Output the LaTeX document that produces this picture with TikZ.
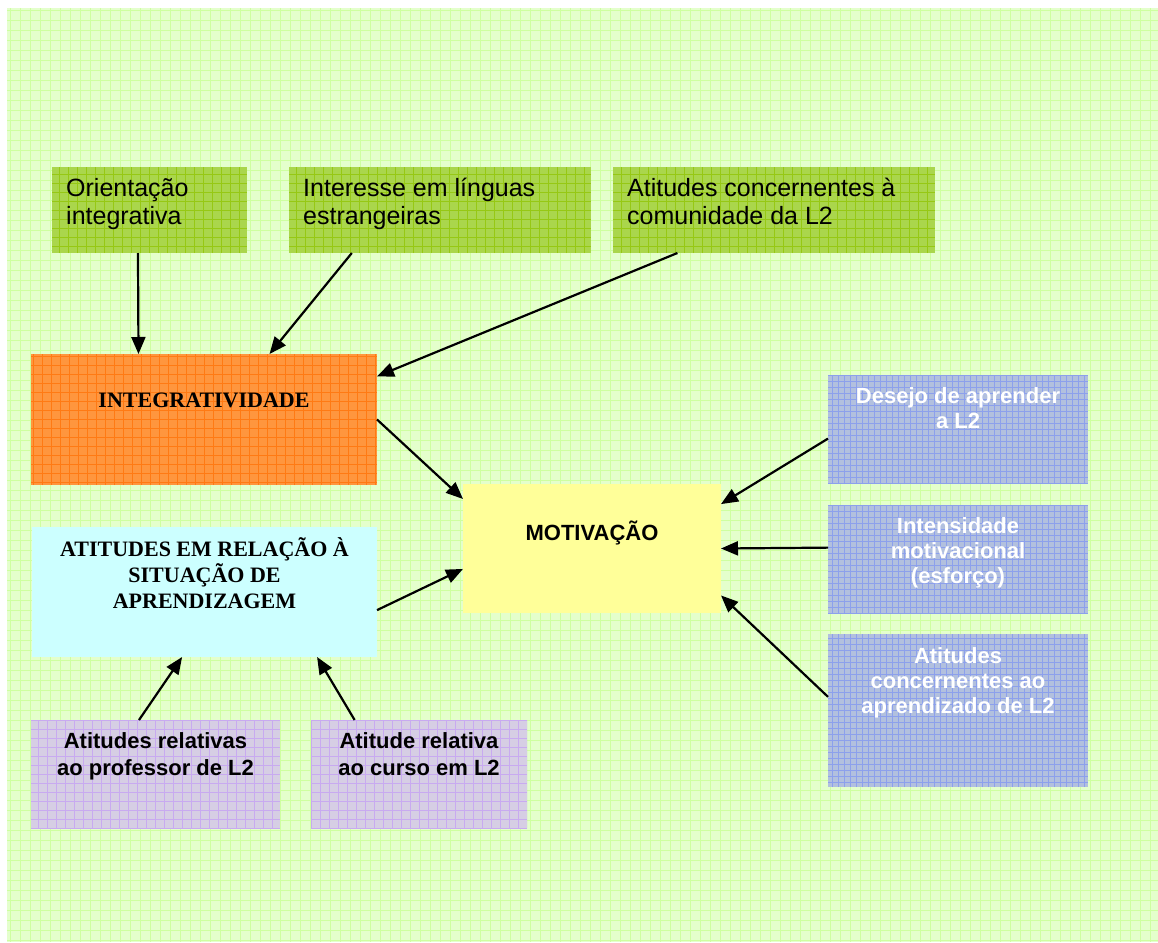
\documentclass[tikz,border=0pt]{standalone}
\usepackage{fontspec}
\setmainfont{Liberation Sans}
\newfontfamily\timesfont{Liberation Serif}
\usetikzlibrary{positioning,arrows.meta}

\definecolor{bgfill}{RGB}{228,255,204}
\definecolor{bgline}{RGB}{206,255,160}
\definecolor{leaf}{RGB}{170,214,76}
\definecolor{leafline}{RGB}{150,200,20}
\definecolor{orangefill}{RGB}{255,150,62}
\definecolor{orangeline}{RGB}{255,122,20}
\definecolor{cyanfill}{RGB}{204,255,255}
\definecolor{yellowfill}{RGB}{255,255,153}
\definecolor{lilac}{RGB}{214,206,228}
\definecolor{lilacline}{RGB}{200,170,240}
\definecolor{bluefill}{RGB}{178,192,222}
\definecolor{blueline}{RGB}{140,160,236}

\begin{document}
\begin{tikzpicture}[x=1pt,y=-1pt,
	panel/.style={anchor=north west,inner sep=0pt,outer sep=0pt},
	gridded/.style 2 args={path picture={\draw[#1,line width=0.6pt] (path picture bounding box.south west) grid[step=#2] (path picture bounding box.north east);}},
	leafbox/.style={panel,fill=leaf,gridded={leafline}{9pt}},
	orangebox/.style={panel,fill=orangefill,gridded={orangeline}{9pt}},
	cyanbox/.style={panel,fill=cyanfill},
	yellowbox/.style={panel,fill=yellowfill},
	lilacbox/.style={panel,fill=lilac,gridded={lilacline}{9pt}},
	bluebox/.style={panel,fill=bluefill,gridded={blueline}{6pt}},
	leaftxt/.style={inner sep=0pt,align=left,font=\fontsize{25}{28}\selectfont},
	serifhead/.style={inner sep=0pt,align=center,font=\timesfont\bfseries\fontsize{22}{26}\selectfont},
	boldtxt/.style={inner sep=0pt,align=center,font=\bfseries\fontsize{22}{27}\selectfont},
	bluetxt/.style={inner sep=0pt,align=center,text=white,font=\bfseries\fontsize{22}{25}\selectfont},
	link/.style={line width=2.2pt,-{Triangle[length=17pt,width=14pt]}}]
	\useasboundingbox (0,0) rectangle (1158,942);
	% background
	\fill[bgfill] (7,8) rectangle (1158,942);
	\draw[bgline,line width=0.8pt] (7,8) grid[step=10pt] (1158,942);

	% top row
	\node[leafbox,minimum width=195pt,minimum height=86pt] (orient) at (52,167) {};
	\node[leafbox,minimum width=302pt,minimum height=86pt] (interesse) at (289,167) {};
	\node[leafbox,minimum width=322pt,minimum height=86pt] (comun) at (613,167) {};
	\node[leaftxt,below right=11pt and 14pt of orient.north west] (orient-t) {Orientação\\integrativa};
	\node[leaftxt,below right=11pt and 14pt of interesse.north west] (interesse-t) {Interesse em línguas\\estrangeiras};
	\node[leaftxt,below right=11pt and 14pt of comun.north west] (comun-t) {Atitudes concernentes à\\comunidade da L2};

	% left column
	\node[orangebox,minimum width=346pt,minimum height=131pt] (integ) at (31,354) {};
	\node[serifhead,below=39pt of integ.north] (integ-t) {INTEGRATIVIDADE};
	\node[cyanbox,minimum width=345pt,minimum height=130pt] (situa) at (32,527) {};
	\node[serifhead,below=10pt of situa.north] (situa-t) {ATITUDES EM RELAÇÃO À\\SITUAÇÃO DE\\APRENDIZAGEM};
	\node[lilacbox,minimum width=249pt,minimum height=108pt] (prof) at (31,720) {};
	\node[lilacbox,minimum width=216pt,minimum height=108pt] (curso) at (311,720) {};
	\node[boldtxt,below=12pt of prof.north] (prof-t) {Atitudes relativas\\ao professor de L2};
	\node[boldtxt,below=12pt of curso.north] (curso-t) {Atitude relativa\\ao curso em L2};

	% centre
	\node[yellowbox,minimum width=258pt,minimum height=129pt] (motiv) at (463,484) {};
	\node[boldtxt,below=37pt of motiv.north] (motiv-t) {MOTIVAÇÃO};

	% right column
	\node[bluebox,minimum width=260pt,minimum height=109pt] (desejo) at (828,375) {};
	\node[bluebox,minimum width=260pt,minimum height=108pt] (intens) at (828,505) {};
	\node[bluebox,minimum width=260pt,minimum height=153pt] (aprend) at (828,634) {};
	\node[bluetxt,below=12pt of desejo.north] (desejo-t) {Desejo de aprender\\a L2};
	\node[bluetxt,below=12pt of intens.north] (intens-t) {Intensidade\\motivacional\\(esforço)};
	\node[bluetxt,below=13pt of aprend.north] (aprend-t) {Atitudes\\concernentes ao\\aprendizado de L2};

	\draw[link] (orient.255) -- (integ.135);
	\draw[link] (interesse.206.6) -- (integ.45.7);
	\draw[link] (comun.204.1) -- (integ.14.4);
	\draw[link] (integ.east) -- (motiv.159.4);
	\draw[link] (situa.-6.6) -- (motiv.189.5);
	\draw[link] (prof.107) -- (situa.251.7);
	\draw[link] (curso.140.3) -- (situa.-30.9);
	\draw[link] (desejo.184.6) -- (motiv.19.4);
	\draw[link] (intens.175.2) -- (motiv.east);
	\draw[link] (aprend.174.5) -- (motiv.-20.6);
\end{tikzpicture}
\end{document}
